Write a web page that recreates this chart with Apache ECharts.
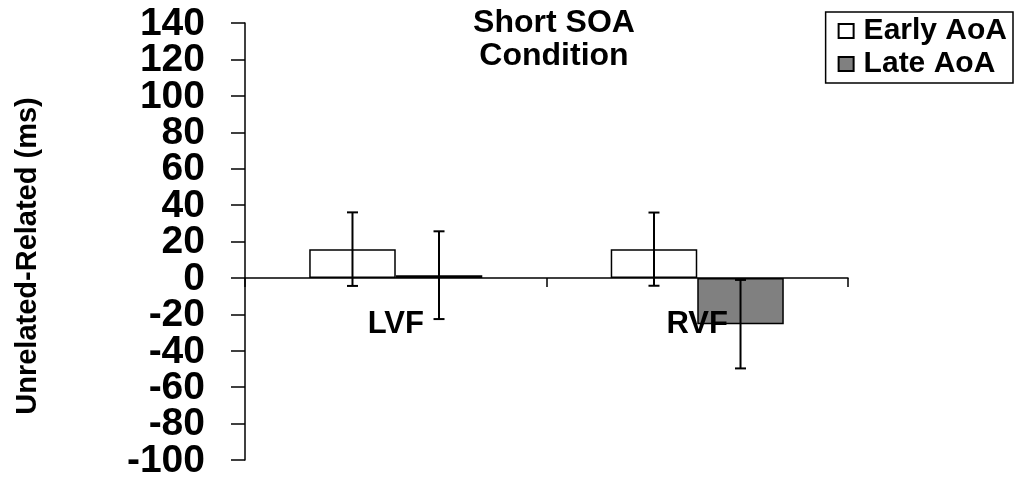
<!DOCTYPE html>
<html>
<head>
<meta charset="utf-8">
<script src="https://cdn.jsdelivr.net/npm/echarts@6/dist/echarts.min.js"></script>
<style>html,body{margin:0;padding:0;background:#fff;}#chart{width:1015px;height:491px;}</style>
</head>
<body>
<div id="chart"></div>
<script>
const categories = ['LVF', 'RVF'];
const seriesNames = ['Early AoA', 'Late AoA'];
const earlyMeans = [15.8, 15.8];
const lateMeans = [1.5, -25.4];
const earlyErr = [20.2, 20.1];
const lateErr = [24.1, 24.3];
const yTicks = [-100, -80, -60, -40, -20, 0, 20, 40, 60, 80, 100, 120, 140];
const yMin = -100, yMax = 140, yStep = 20;

const FONT = '"Liberation Sans", Arial, sans-serif';
const chart = echarts.init(document.getElementById('chart'));
const BAR_FRAC = 0.287;

function errSeries(means, errs, offset) {
  return {
    type: 'custom',
    z: 5,
    silent: true,
    data: means.map((m, i) => [i, m, errs[i]]),
    renderItem: function (params, api) {
      const i = api.value(0), m = api.value(1), e = api.value(2);
      const bw = api.size([1, 0])[0] * BAR_FRAC;
      const top = api.coord([i, m + e]);
      const bot = api.coord([i, m - e]);
      const x = top[0] + offset * bw;
      const cap = 5.5;
      const st = { stroke: '#000', lineWidth: 2 };
      return {
        type: 'group',
        children: [
          { type: 'line', shape: { x1: x, y1: top[1], x2: x, y2: bot[1] }, style: st },
          { type: 'line', shape: { x1: x - cap, y1: top[1], x2: x + cap, y2: top[1] }, style: st },
          { type: 'line', shape: { x1: x - cap, y1: bot[1], x2: x + cap, y2: bot[1] }, style: st }
        ]
      };
    }
  };
}

// category labels placed just under the zero line (as in the original)
const catLabelSeries = {
  type: 'custom',
  z: 4,
  silent: true,
  data: categories.map((c, i) => [i, 0]),
  renderItem: function (params, api) {
    const p = api.coord([api.value(0), 0]);
    return {
      type: 'text',
      x: p[0],
      y: p[1] + 47,
      style: { text: categories[params.dataIndex], font: 'bold 31px ' + FONT, fill: '#000', textAlign: 'center', textVerticalAlign: 'middle' }
    };
  }
};

// y tick labels (tightly packed, as in the original)
const yLabelSeries = {
  type: 'custom',
  z: 4,
  silent: true,
  clip: false,
  data: yTicks.map(v => [0, v]),
  renderItem: function (params, api) {
    const p = api.coord([0, api.value(1)]);
    return {
      type: 'text',
      x: params.coordSys.x - 40,
      y: p[1] + 1,
      style: { text: String(yTicks[params.dataIndex]), font: 'bold 39px ' + FONT, fill: '#000', textAlign: 'right', textVerticalAlign: 'middle' }
    };
  }
};

chart.setOption({
  animation: false,
  backgroundColor: '#fff',
  grid: { left: 245, right: 167, top: 23, bottom: 31, containLabel: false, outerBoundsMode: 'none' },
  graphic: [
    { type: 'text', x: 554, y: 40, style: { text: 'Short SOA\nCondition', font: 'bold 32px ' + FONT, fill: '#000', textAlign: 'center', textVerticalAlign: 'middle', lineHeight: 33 } },
    { type: 'text', x: 28, y: 256, rotation: Math.PI / 2, style: { text: 'Unrelated-Related (ms)', font: 'bold 29px ' + FONT, fill: '#000', textAlign: 'center', textVerticalAlign: 'middle' } }
  ],
  legend: {
    data: seriesNames,
    orient: 'vertical',
    right: 2,
    top: 12,
    borderColor: '#000',
    borderWidth: 1.5,
    padding: [4, 6, 4, 12],
    itemGap: 3,
    itemWidth: 15,
    itemHeight: 14,
    icon: 'rect',
    textStyle: { fontFamily: FONT, fontWeight: 'bold', fontSize: 30, color: '#000', padding: [0, 0, 0, 5] }
  },
  xAxis: {
    type: 'category',
    data: categories,
    axisLine: { onZero: true, lineStyle: { color: '#000', width: 1.5 } },
    axisTick: { show: true, length: 9, lineStyle: { color: '#000', width: 1.5 } },
    axisLabel: { show: false },
    splitLine: { show: false }
  },
  yAxis: {
    type: 'value',
    min: yMin, max: yMax, interval: yStep,
    axisLine: { show: true, lineStyle: { color: '#000', width: 1.5 } },
    axisTick: { show: true, length: 14, lineStyle: { color: '#000', width: 1.5 } },
    axisLabel: { show: false },
    splitLine: { show: false }
  },
  series: [
    {
      name: seriesNames[0], type: 'bar', data: earlyMeans,
      barWidth: (BAR_FRAC * 100) + '%', barGap: '0%',
      itemStyle: { color: '#ffffff', borderColor: '#000', borderWidth: 1.5 }
    },
    {
      name: seriesNames[1], type: 'bar', data: lateMeans,
      barWidth: (BAR_FRAC * 100) + '%', barGap: '0%',
      itemStyle: { color: '#808080', borderColor: '#000', borderWidth: 1.5 }
    },
    errSeries(earlyMeans, earlyErr, -0.5),
    errSeries(lateMeans, lateErr, 0.5),
    catLabelSeries,
    yLabelSeries
  ]
});
</script>
</body>
</html>
